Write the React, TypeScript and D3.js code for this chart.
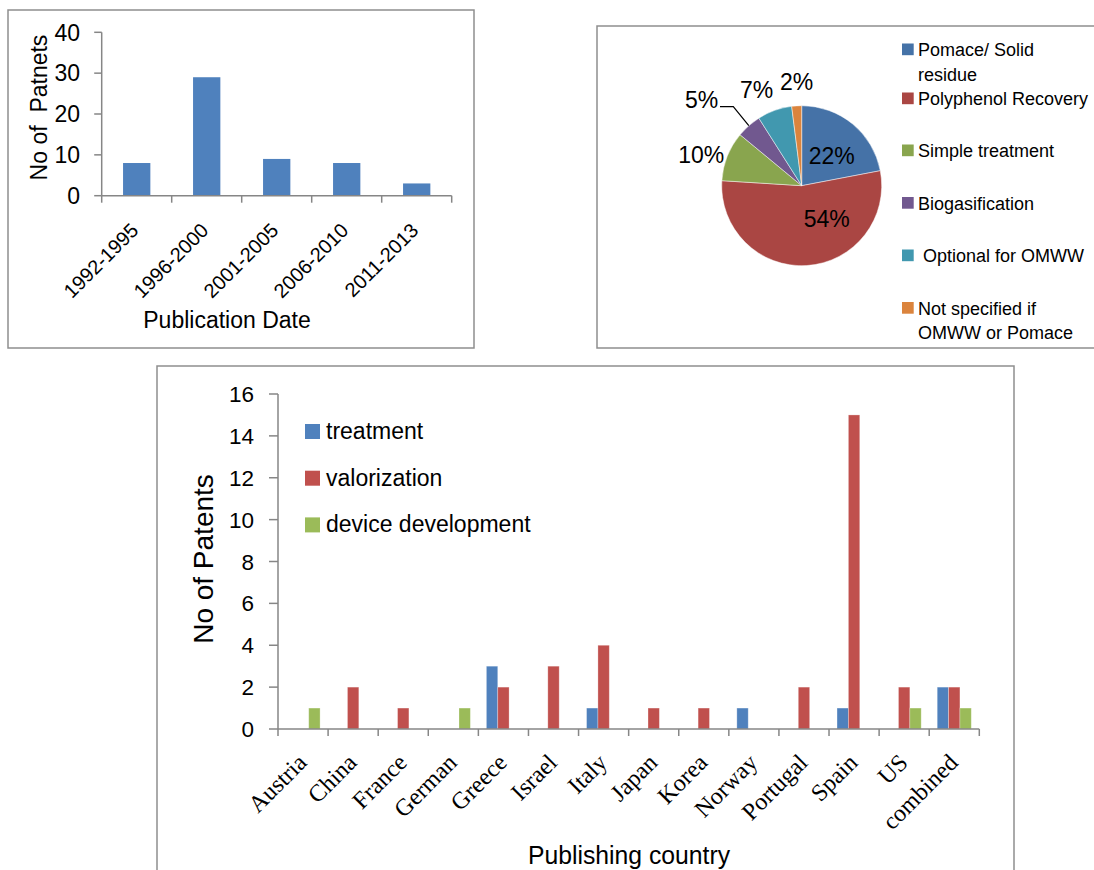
import React from 'react';
import * as d3 from 'd3';

// ---------- Data ----------
const periods = ['1992-1995', '1996-2000', '2001-2005', '2006-2010', '2011-2013'];
const patentsByPeriod = [8, 29, 9, 8, 3];
const periodTicks = [0, 10, 20, 30, 40];

const pieCategories = [
  'Pomace/ Solid residue',
  'Polyphenol Recovery',
  'Simple treatment',
  'Biogasification',
  ' Optional for OMWW',
  'Not specified if OMWW or Pomace',
];
const pieLegendLines = [
  ['Pomace/ Solid', 'residue'],
  ['Polyphenol Recovery'],
  ['Simple treatment'],
  ['Biogasification'],
  [' Optional for OMWW'],
  ['Not specified if', 'OMWW or Pomace'],
];
const pieValues = [22, 54, 10, 5, 7, 2];
const pieLabels = ['22%', '54%', '10%', '5%', '7%', '2%'];
const pieColors = ['#4572A7', '#AA4643', '#89A54E', '#71588F', '#4198AF', '#DB843D'];

const countries = ['Austria', 'China', 'France', 'German', 'Greece', 'Israel', 'Italy', 'Japan', 'Korea', 'Norway', 'Portugal', 'Spain', 'US', 'combined'];
const seriesNames = ['treatment', 'valorization', 'device development'];
const treatment = [0, 0, 0, 0, 3, 0, 1, 0, 0, 1, 0, 1, 0, 2];
const valorization = [0, 2, 1, 0, 2, 3, 4, 1, 1, 0, 2, 15, 2, 2];
const deviceDevelopment = [1, 0, 0, 1, 0, 0, 0, 0, 0, 0, 0, 0, 1, 1];
const seriesColors = ['#4F81BD', '#C0504D', '#9BBB59'];
const countryTicks = [0, 2, 4, 6, 8, 10, 12, 14, 16];

// ---------- Styles ----------
const SANS = '"Liberation Sans", Arial, sans-serif';
const SERIF = '"Liberation Serif", "Times New Roman", serif';
const AXIS = '#868686';
const FRAME = '#8e8e8e';

// pie label layout (offsets from pie centre, label centre x / baseline y)
const pieLabelPos: [number, number][] = [
  [30, -22],
  [25, 41],
  [-100.5, -22.5],
  [-100, -78],
  [-45, -87.5],
  [-5, -96],
];

function PeriodChart() {
  const x = d3.scaleBand<string>().domain(periods).range([101.7, 451.7]).paddingInner(0.61).paddingOuter(0.305);
  const y = d3.scaleLinear().domain([0, 40]).range([195.7, 32.3]);
  const x0 = x.range()[0];
  const step = x.step();
  return (
    <g>
      <rect x={8} y={10} width={466} height={338} fill="#fff" stroke={FRAME} strokeWidth={1.5} />
      {periods.map((p, i) => (
        <rect key={p} x={x(p)} y={y(patentsByPeriod[i])} width={x.bandwidth()} height={y(0) - y(patentsByPeriod[i])} fill="#4F81BD" />
      ))}
      <line x1={x0} x2={x0} y1={y(40)} y2={y(0)} stroke={AXIS} strokeWidth={1.5} />
      {periodTicks.map((t) => (
        <g key={t}>
          <line x1={x0 - 7.5} x2={x0} y1={y(t)} y2={y(t)} stroke={AXIS} strokeWidth={1.5} />
          <text x={80} y={y(t) + 8.2} textAnchor="end" fontFamily={SANS} fontSize={23}>{t}</text>
        </g>
      ))}
      <line x1={x0} x2={x.range()[1]} y1={y(0)} y2={y(0)} stroke={AXIS} strokeWidth={1.5} />
      {d3.range(periods.length + 1).map((i) => (
        <line key={i} x1={x0 + i * step} x2={x0 + i * step} y1={y(0)} y2={y(0) + 7} stroke={AXIS} strokeWidth={1.5} />
      ))}
      {periods.map((p) => {
        const cx = (x(p) as number) + x.bandwidth() / 2 + 3;
        const cy = y(0) + 36;
        return (
          <text key={p} x={cx} y={cy} textAnchor="end" fontFamily={SANS} fontSize={20} transform={`rotate(-45 ${cx} ${cy})`}>{p}</text>
        );
      })}
      <text x={227} y={328} textAnchor="middle" fontFamily={SANS} fontSize={23}>Publication Date</text>
      <text x={0} y={0} transform="translate(46.5 107.5) rotate(-90)" textAnchor="middle" fontFamily={SANS} fontSize={23} style={{ whiteSpace: 'pre' }}>No of  Patnets</text>
    </g>
  );
}

function PieChart() {
  const cx = 801.7;
  const cy = 185.7;
  const r = 80;
  const pie = d3.pie<number>().sort(null).value((d) => d);
  const arcs = pie(pieValues);
  const arc = d3.arc<d3.PieArcDatum<number>>().innerRadius(0).outerRadius(r);
  const legendBaselines = [56, 105, 157, 209.5, 262, 314.5];
  // leader line for the 5% slice
  const a5 = arcs[3];
  const mid5 = (a5.startAngle + a5.endAngle) / 2;
  const ex = cx + Math.sin(mid5) * r;
  const ey = cy - Math.cos(mid5) * r;
  return (
    <g>
      <rect x={597} y={26} width={520} height={322} fill="#fff" stroke={FRAME} strokeWidth={1.5} />
      <g transform={`translate(${cx} ${cy})`}>
        {arcs.map((a, i) => (
          <path key={i} d={arc(a) as string} fill={pieColors[i]} stroke="#ffffff" strokeWidth={0.6} strokeOpacity={0.8} />
        ))}
      </g>
      {pieLabels.map((l, i) => (
        <text key={l} x={cx + pieLabelPos[i][0]} y={cy + pieLabelPos[i][1]} textAnchor="middle" fontFamily={SANS} fontSize={23}>{l}</text>
      ))}
      <polyline points={`720,106.7 733.3,106.7 ${ex},${ey}`} fill="none" stroke="#000" strokeWidth={1.2} />
      {pieLegendLines.map((lines, i) => (
        <g key={i}>
          <rect x={902} y={legendBaselines[i] - 12.5} width={11.7} height={11.7} fill={pieColors[i]} />
          {lines.map((ln, j) => (
            <text key={j} x={918} y={legendBaselines[i] + j * 24.5} fontFamily={SANS} fontSize={18} style={{ whiteSpace: 'pre' }}>{ln}</text>
          ))}
        </g>
      ))}
    </g>
  );
}

function CountryChart() {
  const x = d3.scaleBand<string>().domain(countries).range([278, 979.3]).paddingInner(0.32).paddingOuter(0.16);
  const xs = d3.scaleBand<string>().domain(seriesNames).range([0, x.bandwidth()]);
  const y = d3.scaleLinear().domain([0, 16]).range([729, 394]);
  const data = [treatment, valorization, deviceDevelopment];
  const x0 = x.range()[0];
  const step = x.step();
  return (
    <g>
      <rect x={157} y={366} width={857} height={520} fill="#fff" stroke={FRAME} strokeWidth={1.5} />
      {countries.map((c, ci) => (
        <g key={c}>
          {seriesNames.map((s, si) => {
            const v = data[si][ci];
            if (!v) return null;
            return (
              <rect key={s} x={(x(c) as number) + (xs(s) as number)} y={y(v)} width={xs.bandwidth()} height={y(0) - y(v)} fill={seriesColors[si]} stroke="#ffffff" strokeOpacity={0.35} strokeWidth={0.8} />
            );
          })}
        </g>
      ))}
      <line x1={x0} x2={x0} y1={y(16)} y2={y(0)} stroke={AXIS} strokeWidth={1.5} />
      {countryTicks.map((t) => (
        <g key={t}>
          <line x1={x0 - 9} x2={x0} y1={y(t)} y2={y(t)} stroke={AXIS} strokeWidth={1.5} />
          <text x={254} y={y(t) + 8} textAnchor="end" fontFamily={SANS} fontSize={22.5}>{t}</text>
        </g>
      ))}
      <line x1={x0} x2={x.range()[1]} y1={y(0)} y2={y(0)} stroke={AXIS} strokeWidth={1.5} />
      {d3.range(countries.length + 1).map((i) => (
        <line key={i} x1={x0 + i * step} x2={x0 + i * step} y1={y(0)} y2={y(0) + 7} stroke={AXIS} strokeWidth={1.5} />
      ))}
      {countries.map((c) => {
        const lx = (x(c) as number) + x.bandwidth() / 2 + 5;
        const ly = y(0) + 35;
        return (
          <text key={c} x={lx} y={ly} textAnchor="end" fontFamily={SERIF} fontSize={24} transform={`rotate(-45 ${lx} ${ly})`}>{c}</text>
        );
      })}
      {seriesNames.map((s, i) => (
        <g key={s}>
          <rect x={305} y={424 + i * 46.7} width={15} height={15} fill={seriesColors[i]} />
          <text x={326} y={439 + i * 46.7} fontFamily={SANS} fontSize={23}>{s}</text>
        </g>
      ))}
      <text x={0} y={0} transform="translate(213 559) rotate(-90)" textAnchor="middle" fontFamily={SANS} fontSize={28}>No of Patents</text>
      <text x={629} y={863.5} textAnchor="middle" fontFamily={SANS} fontSize={25} textLength={202} lengthAdjust="spacingAndGlyphs">Publishing country</text>
    </g>
  );
}

export default function App() {
  return (
    <div style={{ position: 'absolute', left: 0, top: 0 }}>
      <svg width={1094} height={870} style={{ display: 'block', background: '#fff' }}>
        <PeriodChart />
        <PieChart />
        <CountryChart />
      </svg>
    </div>
  );
}
